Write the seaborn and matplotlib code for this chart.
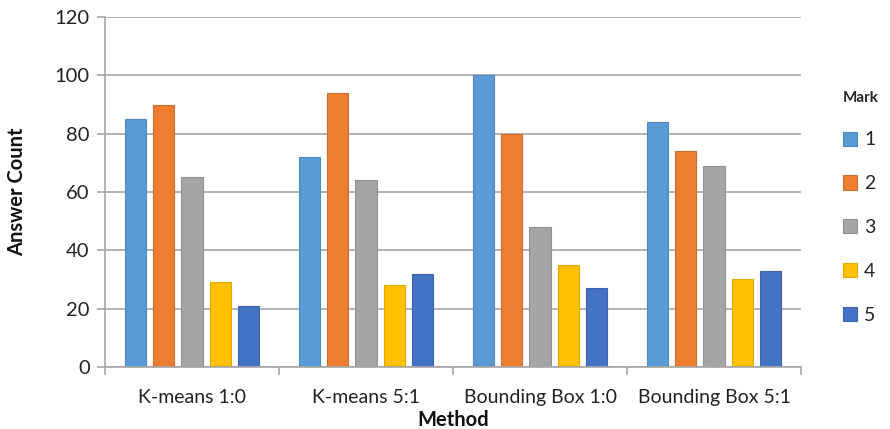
import matplotlib
matplotlib.use("Agg")
import matplotlib.pyplot as plt
import seaborn as sns
import pandas as pd
import numpy as np

methods = ["K-means 1:0", "K-means 5:1", "Bounding Box 1:0", "Bounding Box 5:1"]
marks = ["1", "2", "3", "4", "5"]
mark1 = [85, 72, 100, 84]
mark2 = [90, 94, 80, 74]
mark3 = [65, 64, 48, 69]
mark4 = [29, 28, 35, 30]
mark5 = [21, 32, 27, 33]
colors = ["#5B9BD5", "#ED7D31", "#A5A5A5", "#FFC000", "#4472C4"]

rows = []
for mk, vals in zip(marks, [mark1, mark2, mark3, mark4, mark5]):
    for m, v in zip(methods, vals):
        rows.append({"Method": m, "Mark": mk, "Answer Count": v})
df = pd.DataFrame(rows)

sns.set_theme(style="white")
plt.rcParams["font.family"] = ["Lato", "DejaVu Sans"]

fig = plt.figure(figsize=(8.9, 4.29), dpi=100)
ax = fig.add_axes([0.118, 0.145, 0.782, 0.815])

sns.barplot(data=df, x="Method", y="Answer Count", hue="Mark", hue_order=marks,
            order=methods, palette=colors, width=0.81, gap=0.25, ax=ax,
            edgecolor="none", linewidth=0, saturation=1)

# darker outline on each bar
for patch in ax.patches:
    fc = patch.get_facecolor()
    patch.set_edgecolor(tuple(max(0, c * 0.88) for c in fc[:3]))
    patch.set_linewidth(0.8)

ax.set_ylim(0, 120)
ax.set_xlim(-0.5, 3.5)
ax.set_yticks(np.arange(0, 121, 20))
ax.yaxis.grid(True, color="#A6A6A6", linewidth=1.2)
ax.set_axisbelow(True)

for s in ["top", "right"]:
    ax.spines[s].set_visible(False)
for s in ["left", "bottom"]:
    ax.spines[s].set_color("#A6A6A6")
    ax.spines[s].set_linewidth(1.2)

ax.set_xticks([-0.5, 0.5, 1.5, 2.5, 3.5], minor=True)
ax.tick_params(axis="x", which="major", length=0, labelsize=14, pad=16, colors="#222222")
ax.tick_params(axis="x", which="minor", length=6, color="#A6A6A6", width=1.2, direction="out", bottom=True)
ax.tick_params(axis="y", which="major", length=6, color="#A6A6A6", width=1.2, direction="out",
               left=True, labelsize=14.5, pad=5, labelcolor="#222222")

ax.set_xlabel("Method", fontsize=14.5, fontweight="bold", labelpad=3, color="#111111")
ax.set_ylabel("Answer Count", fontsize=14.5, fontweight="bold", labelpad=20, color="#111111")

leg = ax.legend(title="Mark", loc="upper left", bbox_to_anchor=(1.035, 0.84), frameon=False,
                fontsize=14, title_fontproperties={"weight": "bold", "size": 11},
                labelspacing=1.38, handlelength=0.75, handleheight=0.75, handletextpad=0.35)
leg._legend_box.align = "left"

fig.savefig("out.png", dpi=100)
